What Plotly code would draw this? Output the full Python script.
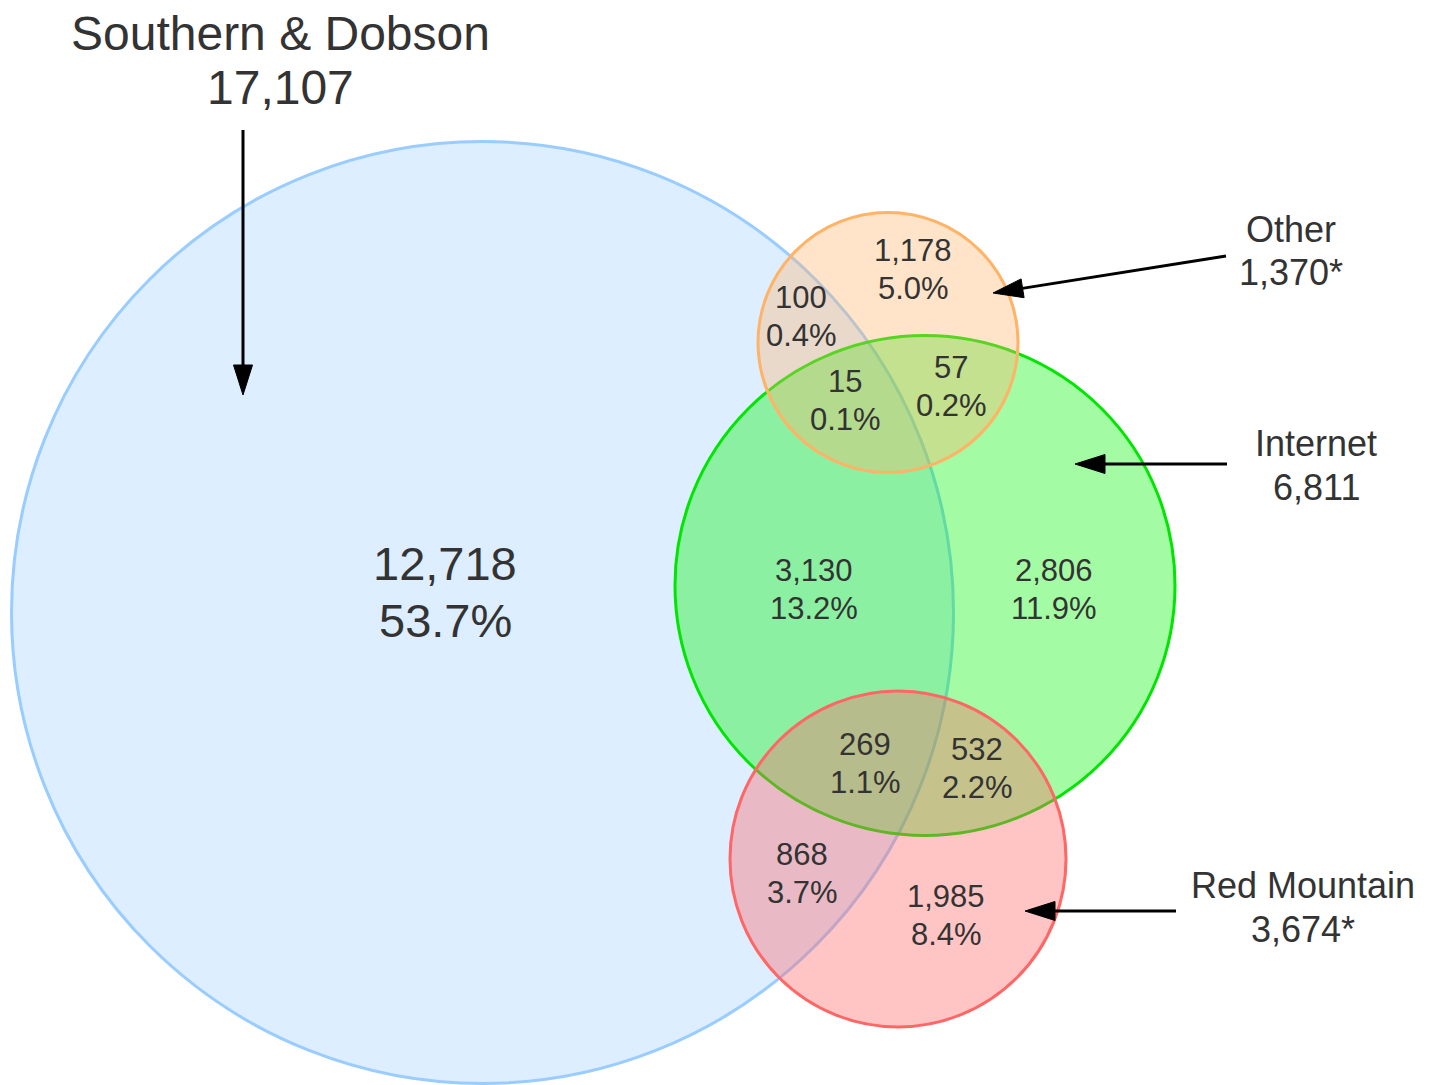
import math
import plotly.graph_objects as go

# ---- data ----
set_names = ["Southern & Dobson", "Other", "Internet", "Red Mountain"]
set_totals = ["17,107", "1,370*", "6,811", "3,674*"]

region_counts = ["12,718", "1,178", "100", "15", "57", "3,130", "2,806", "269", "532", "868", "1,985"]
region_pcts = ["53.7%", "5.0%", "0.4%", "0.1%", "0.2%", "13.2%", "11.9%", "1.1%", "2.2%", "3.7%", "8.4%"]

# ---- layout (page pixel coordinates) ----
W, H = 1439, 1085
OFF = 8  # page body margin
circles = [  # cx, cy, r, fill, line
    (482.5, 612.5, 471, "rgba(153,204,255,0.34)", "#99ccff"),
    (925, 585.5, 250, "rgba(0,245,0,0.36)", "#00e600"),
    (888, 342.5, 130, "rgba(255,179,102,0.35)", "#ffb366"),
    (898, 859, 168, "rgba(255,102,102,0.38)", "#ff6666"),
]
region_pos = [(445, 563, 620, 47), (913, 250, 288, 31), (801, 297, 335, 31), (845, 381, 419, 31),
              (951, 367, 405, 31), (814, 570, 608, 31), (1054, 570, 608, 31), (865, 744, 782, 31),
              (977, 749, 787, 31), (802, 854, 892, 31), (946, 896, 934, 31)]
set_label_pos = [(280, 33, 87, 48), (1291, 229, 272, 36), (1316, 443, 487, 36), (1303, 885, 929, 36)]
arrows = [((243, 130), (243, 395)), ((1226, 256), (993, 293)),
          ((1227, 464), (1075, 464)), ((1176, 911), (1025, 911))]

FONT = "Liberation Sans, Arial, sans-serif"
TXT = "#333333"

fig = go.Figure()
shapes = []
for cx, cy, r, fc, lc in circles:
    shapes.append(dict(type="circle", xref="x", yref="y", x0=cx - r, x1=cx + r, y0=cy - r, y1=cy + r,
                       fillcolor=fc, line=dict(color=lc, width=3), layer="above"))

HEAD_L, HEAD_W = 30, 19
for (sx, sy), (tx, ty) in arrows:
    dx, dy = tx - sx, ty - sy
    d = math.hypot(dx, dy)
    ux, uy = dx / d, dy / d
    bx, by = tx - ux * HEAD_L, ty - uy * HEAD_L
    px, py = -uy, ux
    shapes.append(dict(type="line", xref="x", yref="y", x0=sx, y0=sy, x1=bx + ux * 2, y1=by + uy * 2,
                       line=dict(color="black", width=3), layer="above"))
    path = "M{:.1f},{:.1f} L{:.1f},{:.1f} L{:.1f},{:.1f} Z".format(
        tx, ty, bx + px * HEAD_W / 2, by + py * HEAD_W / 2, bx - px * HEAD_W / 2, by - py * HEAD_W / 2)
    shapes.append(dict(type="path", xref="x", yref="y", path=path, fillcolor="black",
                       line=dict(color="black", width=1), layer="above"))

annotations = []
def add_text(x, y, t, size):
    annotations.append(dict(x=x, y=y, xref="x", yref="y", text=t, showarrow=False, borderpad=0,
                            font=dict(family=FONT, size=size, color=TXT), xanchor="center", yanchor="middle"))

for (x, y1, y2, s), c, p in zip(region_pos, region_counts, region_pcts):
    add_text(x, y1, c, s)
    add_text(x, y2, p, s)
for (x, y1, y2, s), n, t in zip(set_label_pos, set_names, set_totals):
    add_text(x, y1, n, s)
    add_text(x, y2, t, s)

fig.update_layout(
    width=W - OFF, height=H - OFF, margin=dict(l=0, r=0, t=0, b=0),
    paper_bgcolor="white", plot_bgcolor="white",
    xaxis=dict(range=[OFF, W], visible=False, fixedrange=True),
    yaxis=dict(range=[H, OFF], visible=False, fixedrange=True),
    shapes=shapes, annotations=annotations, showlegend=False,
)
fig.write_html("out.html")
